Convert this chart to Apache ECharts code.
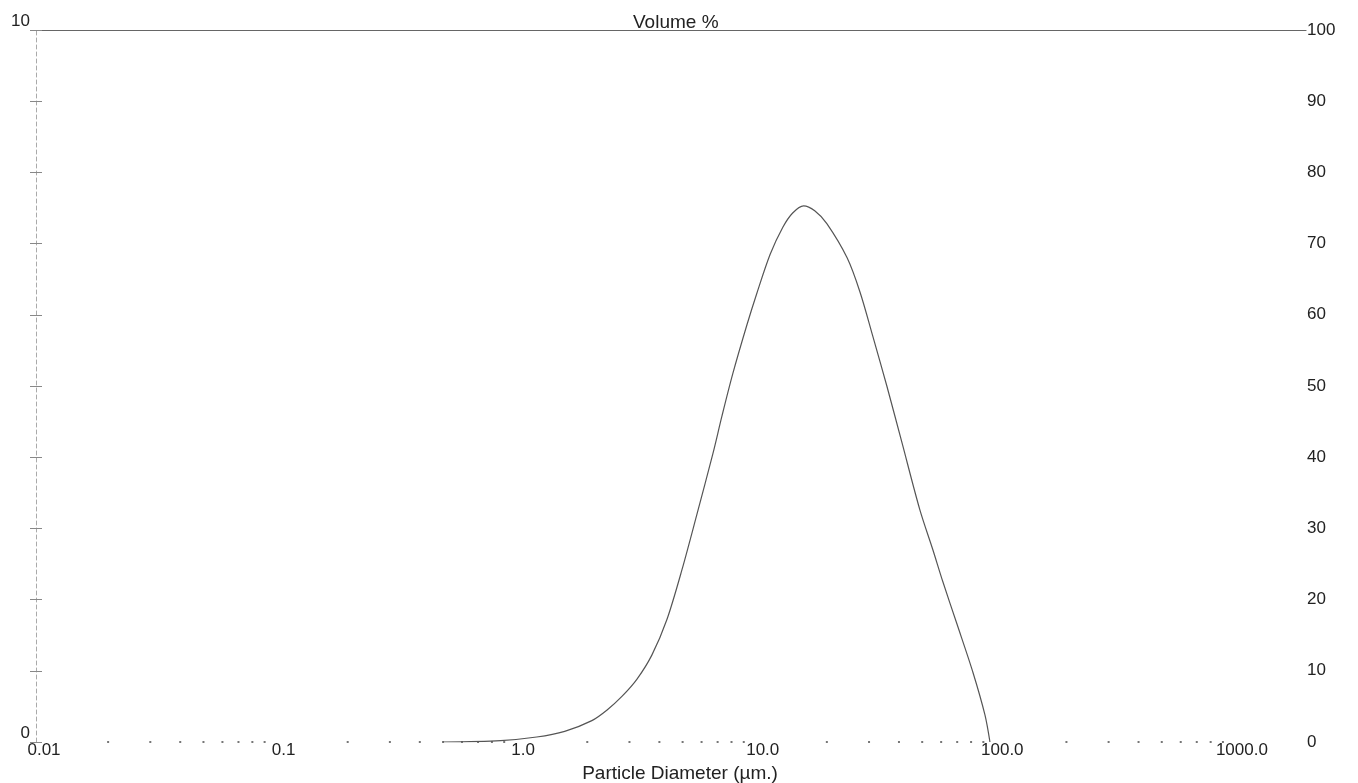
<!DOCTYPE html>
<html>
<head>
<meta charset="utf-8">
<title>Volume %</title>
<script src="https://cdn.jsdelivr.net/npm/echarts@6.0.0/dist/echarts.min.js"></script>
<style>
  html, body { margin: 0; padding: 0; background: #fff; }
  #chart { width: 1358px; height: 783px; }
</style>
</head>
<body>
<div id="chart"></div>
<script>
// particle diameter (um) and volume %
var sizes = [0.50, 0.87, 1.23, 1.61, 2.09, 2.42, 2.79, 3.22, 3.72, 4.30, 4.97, 5.74, 6.69, 7.30, 8.11, 9.28, 10.2, 11.6, 13.1, 14.4, 16.0, 17.8, 20.0, 24.3, 27.5, 31.1, 35.6, 41.2, 48.9, 55.4, 61.0, 69.8, 81.4, 91.4, 95.9]
var volume = [0.00, 0.02, 0.07, 0.15, 0.30, 0.45, 0.64, 0.88, 1.22, 1.72, 2.42, 3.20, 4.05, 4.58, 5.18, 5.86, 6.30, 6.85, 7.23, 7.43, 7.53, 7.46, 7.28, 6.80, 6.32, 5.70, 5.00, 4.20, 3.26, 2.70, 2.25, 1.66, 0.98, 0.38, 0.00]

// dotted minor ticks along the bottom (2..9 in each decade)
var minorTicks = [
  0.02, 0.03, 0.04, 0.05, 0.06, 0.07, 0.08, 0.09,
  0.2, 0.3, 0.4, 0.5, 0.6, 0.7, 0.8, 0.9,
  2, 3, 4, 5, 6, 7, 8, 9,
  20, 30, 40, 50, 60, 70, 80, 90,
  200, 300, 400, 500, 600, 700, 800, 900
]

var font = 'Liberation Sans, Arial, sans-serif'

var chart = echarts.init(document.getElementById('chart'))

var curve = []
for (var i = 0; i < sizes.length; i++) {
  curve.push([sizes[i], volume[i]])
}
var dots = []
minorTicks.forEach(function (v) {
  dots.push([v, 0])
})

chart.setOption({
  animation: false,
  backgroundColor: '#fff',
  title: {
    text: 'Volume %',
    left: 628,
    top: 8,
    textStyle: { fontFamily: font, fontSize: 19, fontWeight: 'normal', color: '#222' }
  },
  grid: {
    left: 36,
    right: 52,
    top: 30,
    bottom: 41,
    containLabel: false,
    outerBoundsMode: 'none'
  },
  xAxis: [
    {
      type: 'log',
      logBase: 10,
      min: 0.01,
      max: 2000,
      position: 'bottom',
      name: 'Particle Diameter (µm.)',
      nameLocation: 'middle',
      nameGap: 22,
      nameTextStyle: { fontFamily: font, fontSize: 19, color: '#222', padding: [0, 0, 0, 18] },
      axisLine: { show: false, onZero: false },
      axisTick: { show: false },
      splitLine: { show: false },
      axisLabel: {
        margin: 0,
        showMaxLabel: false,
        fontFamily: font,
        fontSize: 17,
        color: '#222',
        padding: [0, 0, 0, 16],
        formatter: function (v) {
          v = Number(v.toPrecision(6))
          return v >= 1 ? v.toFixed(1) : String(v)
        }
      }
    },
    {
      type: 'log',
      min: 0.01,
      max: 2000,
      position: 'top',
      axisLine: { show: true, onZero: false, lineStyle: { color: '#666', width: 1.2 } },
      axisTick: { show: false },
      axisLabel: { show: false },
      splitLine: { show: false }
    }
  ],
  yAxis: [
    {
      type: 'value',
      min: 0,
      max: 10,
      interval: 1,
      position: 'left',
      axisLine: { show: true, onZero: false, lineStyle: { color: '#aaa', width: 1, type: [4, 3] } },
      axisTick: { show: true, length: 6, lineStyle: { color: '#888' } },
      splitLine: { show: false },
      axisLabel: {
        margin: 6,
        verticalAlign: 'bottom',
        fontFamily: font,
        fontSize: 17,
        color: '#222',
        formatter: function (v) {
          return (v === 0 || v === 10) ? String(v) : ''
        }
      }
    },
    {
      type: 'value',
      min: 0,
      max: 100,
      interval: 10,
      position: 'right',
      axisLine: { show: false, onZero: false },
      axisTick: { show: false },
      splitLine: { show: false },
      axisLabel: {
        margin: 1,
        align: 'left',
        padding: [0, 0, 10, 0],
        fontFamily: font,
        fontSize: 17,
        color: '#222'
      }
    },
    {
      // inner half of the little crosses on the left axis
      type: 'value',
      min: 0,
      max: 10,
      interval: 1,
      position: 'left',
      axisLine: { show: false, onZero: false },
      axisTick: { show: true, inside: true, length: 6, lineStyle: { color: '#888' } },
      axisLabel: { show: false },
      splitLine: { show: false }
    }
  ],
  series: [
    {
      name: 'Volume %',
      type: 'line',
      xAxisIndex: 0,
      yAxisIndex: 0,
      data: curve,
      smooth: 0.3,
      showSymbol: false,
      lineStyle: { color: '#555', width: 1.2 }
    },
    {
      type: 'scatter',
      xAxisIndex: 0,
      yAxisIndex: 0,
      data: dots,
      symbol: 'rect',
      symbolSize: 2,
      silent: true,
      clip: false,
      itemStyle: { color: '#555' }
    }
  ]
})
</script>
</body>
</html>
